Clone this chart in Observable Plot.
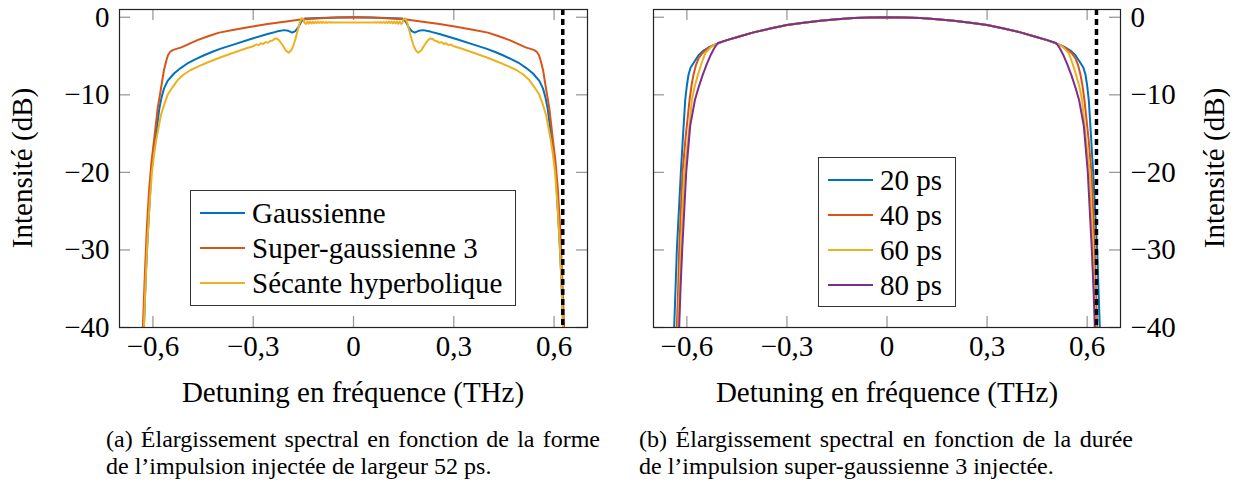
<!DOCTYPE html>
<html><head><meta charset="utf-8">
<script src="https://cdn.jsdelivr.net/npm/d3@7"></script>
<script src="https://cdn.jsdelivr.net/npm/@observablehq/plot@0.6"></script>
<style>
body{margin:0;background:#fff;width:1236px;height:488px;position:relative;overflow:hidden;font-family:"Liberation Serif",serif;color:#000}
.abs{position:absolute}
.ylab{position:absolute;font-size:29px;white-space:nowrap;transform:translate(-50%,-50%) rotate(-90deg);}
.xlab{position:absolute;font-size:29px;white-space:nowrap;transform:translate(-50%,-50%);}
.cap{position:absolute;font-size:24px;line-height:27px;white-space:nowrap;width:494px}
.cap .l1{text-align:justify;text-align-last:justify}
.legend{position:absolute;border:1px solid #333;background:#fff;box-sizing:border-box;padding-top:5px}
.row{position:relative;height:35px;line-height:35px;font-size:29px;white-space:nowrap}
.row .smp{position:absolute;left:9px;width:45px;top:16px;height:2px}
.row .txt{position:absolute;left:61px;top:0}
svg{overflow:visible}
</style></head><body>
<div id="a" class="abs" style="left:0;top:0"></div>
<div id="b" class="abs" style="left:620px;top:0"></div>
<div class="ylab" style="left:22px;top:168px">Intensité (dB)</div>
<div class="ylab" style="left:1214px;top:168px">Intensité (dB)</div>
<div class="xlab" style="left:353px;top:392px">Detuning en fréquence (THz)</div>
<div class="xlab" style="left:887px;top:392px">Detuning en fréquence (THz)</div>
<div class="cap" style="left:106px;top:426px"><div class="l1">(a) Élargissement spectral en fonction de la forme</div><div>de l’impulsion injectée de largeur 52 ps.</div></div>
<div class="cap" style="left:639px;top:426px"><div class="l1">(b) Élargissement spectral en fonction de la durée</div><div>de l’impulsion super-gaussienne 3 injectée.</div></div>
<div id="legA" class="legend" style="left:190px;top:190px;width:326px;height:116px"></div>
<div id="legB" class="legend" style="left:818px;top:157px;width:138px;height:150px"></div>
<script>
// ---------- data ----------
const xTicks = [-0.6, -0.3, 0, 0.3, 0.6];
const yTicks = [0, -10, -20, -30, -40];
const cutoffA = 0.626;
const cutoffB = 0.628;

const namesA = ["Gaussienne", "Super-gaussienne 3", "Sécante hyperbolique"];
const namesB = ["20 ps", "40 ps", "60 ps", "80 ps"];
const colors = ["#0072BD", "#D95319", "#EDB120", "#7E2F8E"];

const gaussienne = [[-0.627,-40],[-0.621,-33],[-0.616,-28.5],[-0.610,-24],[-0.605,-20],[-0.598,-17],[-0.591,-15.2],[-0.586,-13.5],[-0.581,-11.8],[-0.574,-10.3],[-0.567,-9.2],[-0.556,-8.2],[-0.537,-7.25],[-0.517,-6.55],[-0.497,-5.96],[-0.472,-5.4],[-0.447,-4.9],[-0.422,-4.45],[-0.397,-4.05],[-0.357,-3.5],[-0.307,-2.8],[-0.257,-2.15],[-0.230,-1.85],[-0.208,-1.66],[-0.195,-1.75],[-0.183,-1.98],[-0.174,-1.8],[-0.166,-1.35],[-0.158,-0.7],[-0.152,-0.3],[-0.145,-0.15],[-0.100,-0.08],[-0.050,-0.02],[0,0],
[0.050,-0.02],[0.100,-0.08],[0.145,-0.15],[0.152,-0.3],[0.158,-0.7],[0.166,-1.35],[0.174,-1.8],[0.183,-1.98],[0.195,-1.75],[0.208,-1.66],[0.230,-1.85],[0.257,-2.15],[0.307,-2.8],[0.357,-3.5],[0.397,-4.05],[0.422,-4.45],[0.447,-4.9],[0.472,-5.4],[0.497,-5.96],[0.517,-6.55],[0.537,-7.25],[0.556,-8.2],[0.567,-9.2],[0.574,-10.3],[0.581,-11.8],[0.586,-13.5],[0.591,-15.2],[0.598,-17],[0.605,-20],[0.610,-24],[0.616,-28.5],[0.621,-33],[0.627,-40]];

const superGauss3 = [[-0.630,-40],[-0.624,-33],[-0.618,-27],[-0.611,-22],[-0.604,-18.5],[-0.596,-15.6],[-0.586,-11.8],[-0.576,-9.2],[-0.567,-6.8],[-0.560,-5.6],[-0.555,-4.9],[-0.548,-4.45],[-0.541,-4.24],[-0.530,-4.08],[-0.517,-3.92],[-0.500,-3.6],[-0.467,-2.95],[-0.435,-2.45],[-0.402,-1.98],[-0.357,-1.6],[-0.307,-1.22],[-0.257,-0.88],[-0.207,-0.58],[-0.158,-0.3],[-0.100,-0.12],[-0.050,-0.03],[0,0],
[0.050,-0.03],[0.100,-0.12],[0.158,-0.3],[0.207,-0.58],[0.257,-0.88],[0.307,-1.22],[0.357,-1.6],[0.402,-1.98],[0.435,-2.45],[0.467,-2.95],[0.500,-3.6],[0.517,-3.92],[0.530,-4.08],[0.541,-4.24],[0.548,-4.45],[0.555,-4.9],[0.560,-5.6],[0.567,-6.8],[0.576,-9.2],[0.586,-11.8],[0.596,-15.6],[0.604,-18.5],[0.611,-22],[0.618,-27],[0.624,-33],[0.630,-40]];

const secanteHyp = [[-0.627,-40],[-0.621,-33],[-0.616,-28.5],[-0.610,-24],[-0.603,-20],[-0.596,-17.5],[-0.590,-15.8],[-0.583,-14.2],[-0.576,-12.6],[-0.566,-11.2],[-0.556,-10.0],[-0.541,-9.0],[-0.526,-8.1],[-0.507,-7.35],[-0.487,-6.8],[-0.462,-6.3],[-0.437,-5.83],[-0.397,-5.15],[-0.357,-4.55],[-0.320,-4.0],[-0.298,-3.7],[-0.290,-3.5],[-0.284,-3.6],[-0.277,-3.35],[-0.270,-3.45],[-0.263,-3.2],[-0.256,-3.3],[-0.249,-3.05],[-0.242,-3.0],[-0.236,-2.78],[-0.229,-2.75],[-0.222,-3.0],[-0.213,-3.55],[-0.203,-4.25],[-0.194,-4.58],[-0.186,-4.25],[-0.179,-3.55],[-0.173,-2.7],[-0.167,-1.7],[-0.161,-0.75],[-0.155,-0.12],[-0.150,-0.25],[-0.146,-0.75],[-0.142,-0.85],[-0.138,-0.55],[-0.134,-0.82],[-0.130,-0.56],[-0.126,-0.8],[-0.122,-0.57],[-0.118,-0.78],[-0.114,-0.58],[-0.110,-0.76],[-0.106,-0.59],[-0.102,-0.74],[-0.098,-0.6],[-0.094,-0.73],[-0.090,-0.61],[-0.086,-0.72],[-0.082,-0.62],[-0.078,-0.71],[-0.074,-0.63],[-0.070,-0.7],[-0.066,-0.64],[-0.062,-0.68],[-0.055,-0.66],[-0.030,-0.66],[0,-0.66],
[0.030,-0.66],[0.055,-0.66],[0.062,-0.68],[0.066,-0.64],[0.070,-0.7],[0.074,-0.63],[0.078,-0.71],[0.082,-0.62],[0.086,-0.72],[0.090,-0.61],[0.094,-0.73],[0.098,-0.6],[0.102,-0.74],[0.106,-0.59],[0.110,-0.76],[0.114,-0.58],[0.118,-0.78],[0.122,-0.57],[0.126,-0.8],[0.130,-0.56],[0.134,-0.82],[0.138,-0.55],[0.142,-0.85],[0.146,-0.75],[0.150,-0.25],[0.155,-0.12],[0.161,-0.75],[0.167,-1.7],[0.173,-2.7],[0.179,-3.55],[0.186,-4.25],[0.194,-4.58],[0.203,-4.25],[0.213,-3.55],[0.222,-3.0],[0.229,-2.75],[0.236,-2.78],[0.242,-3.0],[0.249,-3.05],[0.256,-3.3],[0.263,-3.2],[0.270,-3.45],[0.277,-3.35],[0.284,-3.6],[0.290,-3.5],[0.298,-3.7],[0.320,-4.0],[0.357,-4.55],[0.397,-5.15],[0.437,-5.83],[0.462,-6.3],[0.487,-6.8],[0.507,-7.35],[0.526,-8.1],[0.541,-9.0],[0.556,-10.0],[0.566,-11.2],[0.576,-12.6],[0.583,-14.2],[0.590,-15.8],[0.596,-17.5],[0.603,-20],[0.610,-24],[0.616,-28.5],[0.621,-33],[0.627,-40]];

const ps20 = [[-0.638,-40],[-0.634,-35],[-0.630,-30],[-0.624,-25],[-0.618,-20],[-0.612,-15.6],[-0.605,-10.7],[-0.600,-8.8],[-0.595,-7.4],[-0.589,-6.5],[-0.580,-5.9],[-0.565,-4.9],[-0.550,-4.3],[-0.535,-3.9],[-0.520,-3.6],[-0.480,-2.95],[-0.440,-2.45],[-0.400,-1.95],[-0.350,-1.45],[-0.300,-1.0],[-0.250,-0.7],[-0.200,-0.45],[-0.150,-0.25],[-0.100,-0.1],[-0.050,-0.03],[0,0],
[0.050,-0.03],[0.100,-0.1],[0.150,-0.25],[0.200,-0.45],[0.250,-0.7],[0.300,-1.0],[0.350,-1.45],[0.400,-1.95],[0.440,-2.45],[0.480,-2.95],[0.520,-3.6],[0.535,-3.9],[0.550,-4.3],[0.565,-4.9],[0.580,-5.9],[0.589,-6.5],[0.595,-7.4],[0.600,-8.8],[0.605,-10.7],[0.612,-15.6],[0.618,-20],[0.624,-25],[0.630,-30],[0.634,-35],[0.638,-40]];

const ps40 = [[-0.630,-40],[-0.626,-35],[-0.623,-30],[-0.618,-25],[-0.613,-20],[-0.604,-15.6],[-0.592,-10.7],[-0.586,-8.8],[-0.580,-7.4],[-0.573,-6.2],[-0.565,-5.3],[-0.555,-4.7],[-0.545,-4.3],[-0.532,-3.9],[-0.520,-3.6],[-0.480,-2.95],[-0.440,-2.45],[-0.400,-1.95],[-0.350,-1.45],[-0.300,-1.0],[-0.250,-0.7],[-0.200,-0.45],[-0.150,-0.25],[-0.100,-0.1],[-0.050,-0.03],[0,0],
[0.050,-0.03],[0.100,-0.1],[0.150,-0.25],[0.200,-0.45],[0.250,-0.7],[0.300,-1.0],[0.350,-1.45],[0.400,-1.95],[0.440,-2.45],[0.480,-2.95],[0.520,-3.6],[0.532,-3.9],[0.545,-4.3],[0.555,-4.7],[0.565,-5.3],[0.573,-6.2],[0.580,-7.4],[0.586,-8.8],[0.592,-10.7],[0.604,-15.6],[0.613,-20],[0.618,-25],[0.623,-30],[0.626,-35],[0.630,-40]];

const ps60 = [[-0.626,-40],[-0.622,-35],[-0.618,-30],[-0.613,-25],[-0.608,-20],[-0.596,-15.6],[-0.585,-10.7],[-0.577,-9.0],[-0.566,-7.3],[-0.555,-5.8],[-0.545,-4.65],[-0.530,-3.94],[-0.520,-3.6],[-0.480,-2.95],[-0.440,-2.45],[-0.400,-1.95],[-0.350,-1.45],[-0.300,-1.0],[-0.250,-0.7],[-0.200,-0.45],[-0.150,-0.25],[-0.100,-0.1],[-0.050,-0.03],[0,0],
[0.050,-0.03],[0.100,-0.1],[0.150,-0.25],[0.200,-0.45],[0.250,-0.7],[0.300,-1.0],[0.350,-1.45],[0.400,-1.95],[0.440,-2.45],[0.480,-2.95],[0.520,-3.6],[0.530,-3.94],[0.545,-4.65],[0.555,-5.8],[0.566,-7.3],[0.577,-9.0],[0.585,-10.7],[0.596,-15.6],[0.608,-20],[0.613,-25],[0.618,-30],[0.622,-35],[0.626,-40]];

const ps80 = [[-0.623,-40],[-0.619,-35],[-0.614,-30],[-0.608,-25],[-0.602,-20],[-0.590,-14],[-0.576,-10.7],[-0.566,-9.2],[-0.553,-7.5],[-0.540,-6.0],[-0.530,-5.0],[-0.518,-4.0],[-0.507,-3.32],[-0.480,-2.95],[-0.440,-2.45],[-0.400,-1.95],[-0.350,-1.45],[-0.300,-1.0],[-0.250,-0.7],[-0.200,-0.45],[-0.150,-0.25],[-0.100,-0.1],[-0.050,-0.03],[0,0],
[0.050,-0.03],[0.100,-0.1],[0.150,-0.25],[0.200,-0.45],[0.250,-0.7],[0.300,-1.0],[0.350,-1.45],[0.400,-1.95],[0.440,-2.45],[0.480,-2.95],[0.507,-3.32],[0.518,-4.0],[0.530,-5.0],[0.540,-6.0],[0.553,-7.5],[0.566,-9.2],[0.576,-10.7],[0.590,-14],[0.602,-20],[0.608,-25],[0.614,-30],[0.619,-35],[0.623,-40]];

// ---------- drawing ----------
const fmtX = d => d === 0 ? "0" : (d < 0 ? "−" : "") + Math.abs(d).toFixed(1).replace(".", ",");
const fmtY = d => d === 0 ? "0" : (d < 0 ? "−" : "") + Math.abs(d);

function panel({width, marginLeft, marginRight, series, cutoff, yAnchor}) {
  const fw = width - marginLeft - marginRight; // frame width in px
  const fh = 318;
  const tk = 11;
  return Plot.plot({
    width, height: 370, marginLeft, marginRight, marginTop: 9, marginBottom: 43,
    x: {domain: [-0.7, 0.7]},
    y: {domain: [-40, 1]},
    style: {fontFamily: '"Liberation Serif", serif', fontSize: "29px", background: "transparent", color: "#000", overflow: "visible"},
    marks: [
      Plot.tickX(xTicks, {x: d => d, stroke: "#9a9a9a", strokeWidth: 1.3, insetTop: fh - tk}),
      Plot.tickX(xTicks, {x: d => d, stroke: "#9a9a9a", strokeWidth: 1.3, insetBottom: fh - tk}),
      Plot.tickY(yTicks, {y: d => d, stroke: "#9a9a9a", strokeWidth: 1.3, insetRight: fw - tk}),
      Plot.tickY(yTicks, {y: d => d, stroke: "#9a9a9a", strokeWidth: 1.3, insetLeft: fw - tk}),
      ...series.map((s, i) => Plot.line(s, {x: d => d[0], y: d => d[1], stroke: colors[i], strokeWidth: 2, clip: true})),
      Plot.ruleX([cutoff], {x: d => d, stroke: "#000", strokeWidth: 3.5, strokeDasharray: "6,4"}),
      Plot.frame({stroke: "#222", strokeWidth: 1.2}),
      Plot.axisX({ticks: xTicks, anchor: "bottom", tickSize: 0, tickPadding: 8, tickFormat: fmtX, label: null}),
      Plot.axisY({ticks: yTicks, anchor: yAnchor, tickSize: 0, tickPadding: 10, tickFormat: fmtY, label: null})
    ]
  });
}

document.getElementById("a").append(panel({width: 620, marginLeft: 119, marginRight: 33, series: [gaussienne, superGauss3, secanteHyp], cutoff: cutoffA, yAnchor: "left"}));
document.getElementById("b").append(panel({width: 616, marginLeft: 33, marginRight: 116, series: [ps20, ps40, ps60, ps80], cutoff: cutoffB, yAnchor: "right"}));

function legend(id, names) {
  const box = document.getElementById(id);
  names.forEach((n, i) => {
    const r = document.createElement("div");
    r.className = "row";
    r.innerHTML = `<div class="smp" style="background:${colors[i]}"></div><div class="txt">${n}</div>`;
    box.append(r);
  });
}
legend("legA", namesA);
legend("legB", namesB);
</script>
</body></html>
